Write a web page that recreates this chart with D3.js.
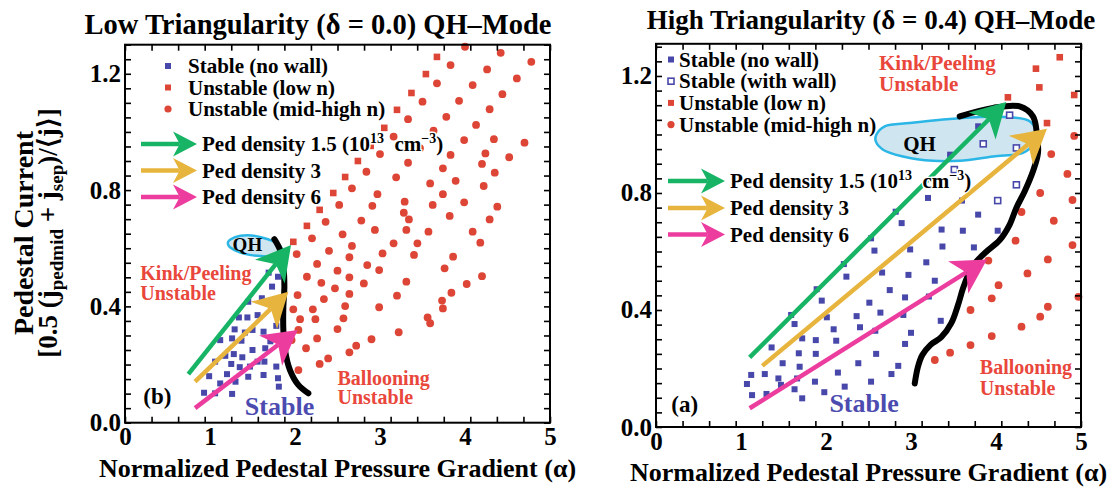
<!DOCTYPE html>
<html>
<head>
<meta charset="utf-8">
<script src="https://cdn.jsdelivr.net/npm/d3@7"></script>
<style>
  body { margin: 0; background: #fff; }
  svg text { font-family: "Liberation Serif", "Times New Roman", serif; font-weight: bold; }
</style>
</head>
<body>
<svg id="chart" width="1119" height="490"></svg>
<script>
// ---------------- data (alpha, normalized pedestal current) ----------------
const xTickLabels = [0, 1, 2, 3, 4, 5];
const yTickLabels = [0, 0.4, 0.8, 1.2];
const densityLabels = ["Ped density 1.5", "Ped density 3", "Ped density 6"];

// low triangularity panel (b)
const leftStableNoWall = [
  [1.69,0.516],[1.80,0.502],[1.73,0.468],[1.61,0.428],[1.73,0.413],[1.45,0.416],[1.34,0.362],[1.44,0.362],
  [1.29,0.321],[1.50,0.319],[1.63,0.313],[1.78,0.333],[1.12,0.284],[1.26,0.290],[1.37,0.282],[1.50,0.250],
  [1.65,0.256],[1.28,0.236],[1.38,0.225],[1.06,0.210],[1.25,0.202],[1.35,0.191],[1.47,0.193],[1.64,0.210],
  [1.78,0.193],[1.20,0.167],[1.12,0.135],[1.30,0.141],[1.45,0.158],[1.63,0.164],[1.80,0.153],[1.81,0.124],
  [0.93,0.103],[1.06,0.101],[1.26,0.099],[0.99,0.160],[1.18,0.230],[1.56,0.210],[1.71,0.280],[1.41,0.310],
  [1.56,0.370]
];
const leftUnstableLowN = [
  [3.67,1.258],[3.54,1.199],[3.37,1.134],[3.20,1.076],[3.05,1.014],[2.89,0.952],[2.74,0.900],[2.59,0.845],
  [2.45,0.790],[2.29,0.732],[2.14,0.677],[1.98,0.622]
];
const leftUnstableMidN = [
  [4.00,1.293],[4.42,1.272],[3.83,1.230],[4.26,1.215],[4.61,1.184],[3.67,1.167],[4.09,1.161],[4.44,1.130],
  [3.50,1.104],[3.93,1.107],[4.29,1.078],[3.33,1.044],[3.78,1.052],[4.13,1.024],[3.16,0.984],[3.63,1.004],
  [3.99,0.972],[4.34,0.975],[3.00,0.924],[3.47,0.944],[3.83,0.921],[4.24,0.926],[4.52,0.913],[2.84,0.863],
  [3.33,0.894],[3.74,0.875],[4.20,0.890],[4.35,0.860],[2.67,0.806],[3.19,0.844],[3.59,0.823],[3.89,0.832],
  [4.22,0.814],[2.52,0.749],[2.97,0.786],[3.29,0.760],[3.74,0.786],[3.99,0.758],[2.36,0.691],[2.91,0.746],
  [3.28,0.722],[3.34,0.699],[3.62,0.749],[3.82,0.711],[4.38,0.743],[4.29,0.699],[2.78,0.695],[2.94,0.663],
  [3.31,0.663],[3.57,0.657],[2.56,0.648],[4.09,0.657],[4.78,1.241],[4.70,0.963],
  [2.20,0.634],[2.67,0.608],[4.18,0.619],[2.40,0.591],[3.16,0.617],[3.44,0.617],[2.64,0.569],[3.03,0.582],
  [3.40,0.577],[3.86,0.571],[2.26,0.546],[2.85,0.542],[2.50,0.523],[2.99,0.525],[3.76,0.531],[2.31,0.481],
  [2.64,0.500],[2.81,0.479],[3.31,0.485],[4.20,0.504],[4.02,0.477],[2.47,0.462],[2.64,0.443],[3.20,0.437],
  [3.84,0.447],[2.34,0.425],[2.59,0.401],[2.99,0.397],[3.73,0.420],[3.74,0.393],[2.21,0.390],[2.24,0.356],
  [2.57,0.359],[3.56,0.362],[3.59,0.342],[2.50,0.322],[2.26,0.290],[2.90,0.287],[3.22,0.311],[2.72,0.265],
  [2.64,0.242],[2.39,0.221],[2.29,0.202],
  [2.02,0.580],[2.14,0.502],[2.03,0.439],[1.98,0.390],[2.06,0.356],[2.04,0.319],[2.13,0.256],[1.96,0.284],
  [2.04,0.181]
];
const leftBoundary = [
  [1.757,0.631],[1.824,0.594],[1.863,0.537],[1.875,0.468],[1.863,0.399],[1.863,0.319],[1.882,0.250],
  [1.941,0.181],[2.039,0.130],[2.157,0.101]
];
const leftQH = [
  [1.212,0.621],[1.295,0.638],[1.436,0.645],[1.601,0.638],[1.742,0.624],[1.836,0.604],[1.848,0.586],
  [1.765,0.573],[1.601,0.573],[1.436,0.579],[1.295,0.593],[1.224,0.607]
];
const leftArrowStart = [[0.745,0.167],[0.824,0.141],[0.824,0.050]];
const leftArrowEnd   = [[1.953,0.611],[1.922,0.450],[2.031,0.319]];

// high triangularity panel (a)
const rightStableNoWall = [
  [2.21,0.557],[2.24,0.514],[1.89,0.471],[1.95,0.432],[1.59,0.383],[1.63,0.352],[2.01,0.375],[2.09,0.334],
  [1.72,0.303],[1.88,0.297],[2.12,0.295],[1.36,0.272],[1.68,0.252],[1.88,0.250],[1.49,0.218],[1.69,0.206],
  [1.12,0.178],[1.28,0.181],[1.44,0.166],[1.66,0.166],[1.87,0.155],[2.14,0.186],[1.07,0.147],[1.47,0.144],
  [1.63,0.129],[1.98,0.119],[2.22,0.138],[1.13,0.109],[1.30,0.113],[1.72,0.098],
  [4.02,0.671],[2.57,0.603],[2.99,0.607],[3.37,0.617],[3.74,0.614],[2.66,0.528],[2.97,0.520],[3.18,0.563],
  [3.28,0.500],[2.75,0.468],[2.93,0.443],[3.21,0.446],[2.51,0.425],[2.64,0.391],[2.91,0.383],[3.35,0.363],
  [2.36,0.379],[2.40,0.341],[2.58,0.329],[3.00,0.322],[2.93,0.284],[2.59,0.250],[2.38,0.218],[2.85,0.209],
  [2.77,0.181],[2.53,0.155],
  [3.79,1.028],[3.46,0.931],[3.20,0.783],[3.60,0.774],[3.79,0.726],[2.89,0.697],[3.36,0.675],[3.61,0.671],
  [2.53,0.645],[2.82,0.736]
];
const rightStableWall = [[4.16,1.066],[3.85,0.968],[4.24,0.954],[4.24,0.828],[4.02,0.774],[3.51,0.880]];
const rightUnstableLowN = [[4.47,1.225],[4.51,1.161],[4.14,1.127],[4.60,1.039],[4.75,1.264],[4.92,1.135]];
const rightUnstableMidN = [
  [4.65,0.933],[4.52,0.800],[4.30,0.735],[4.68,0.705],[4.92,0.995],[4.84,0.865],[4.90,0.776],[4.90,0.622],
  [4.23,0.637],[4.61,0.573],[3.91,0.569],[4.37,0.525],[4.03,0.485],[4.97,0.445],[3.95,0.440],[3.70,0.400],
  [4.61,0.411],[4.52,0.377],[4.30,0.343],[3.95,0.311],[3.70,0.280],[3.46,0.254],[3.28,0.229]
];
const rightBoundary = [
  [3.573,1.062],[3.965,1.091],[4.279,1.096],[4.435,1.062],[4.482,0.999],[4.494,0.937],[4.435,0.874],
  [4.338,0.806],[4.239,0.749],[4.161,0.692],[4.044,0.639],[3.886,0.599],[3.768,0.565],[3.682,0.525],
  [3.612,0.474],[3.553,0.417],[3.474,0.355],[3.356,0.307],[3.227,0.280],[3.133,0.246],[3.082,0.206],
  [3.044,0.149]
];
const rightQH = [
  [2.592,0.999],[2.691,1.028],[2.985,1.039],[3.376,1.051],[3.768,1.059],[4.161,1.059],[4.396,1.045],
  [4.467,1.011],[4.435,0.965],[4.318,0.937],[3.965,0.925],[3.573,0.910],[3.259,0.910],[2.906,0.925],
  [2.671,0.948],[2.585,0.977]
];
const rightArrowStart = [[1.102,0.238],[1.251,0.209],[1.102,0.064]];
const rightArrowEnd   = [[4.121,1.111],[4.600,1.020],[3.894,0.573]];

// ---------------- styling ----------------
const BLUE = "#4848aa", RED = "#dd4536", TXT_RED = "#e9473b", TXT_BLUE = "#4b4bb0";
const arrowColors = ["#17b466", "#e7b43e", "#ec3d9f"];
const xMinorTicks = d3.range(0, 17).map(i => i * 5 / 16);
const yMinorTicks = d3.range(0, 27).map(i => i * 0.05);

const svg = d3.select("#chart");

function addText(g, x, y, str, size, color, anchor) {
  return g.append("text")
    .attr("x", x).attr("y", y)
    .attr("font-size", size)
    .attr("fill", color || "#000")
    .attr("text-anchor", anchor || "start")
    .text(str);
}

function drawArrow(g, x1, y1, x2, y2, color, L, W, sw) {
  const dx = x2 - x1, dy = y2 - y1, len = Math.hypot(dx, dy);
  const ux = dx / len, uy = dy / len, vx = -uy, vy = ux;
  const bx = x2 - ux * L, by = y2 - uy * L;
  const nx = x2 - ux * L * 0.72, ny = y2 - uy * L * 0.72;
  g.append("line")
    .attr("x1", x1).attr("y1", y1).attr("x2", nx).attr("y2", ny)
    .attr("stroke", color).attr("stroke-width", sw);
  g.append("path")
    .attr("d", `M${x2},${y2}L${bx + vx * W},${by + vy * W}L${nx},${ny}L${bx - vx * W},${by - vy * W}Z`)
    .attr("fill", color);
}

function squareMarker(g, cx, cy, s, fill, stroke) {
  g.append("rect")
    .attr("x", cx - s / 2).attr("y", cy - s / 2)
    .attr("width", s).attr("height", s)
    .attr("fill", fill).attr("stroke", stroke || "none").attr("stroke-width", 1.6);
}

function drawPanel(p) {
  const g = svg.append("g");
  const x = p.x, y = p.y;
  const [x0, x1] = x.range(), [y0, y1] = y.range();

  // QH operating region
  g.append("path")
    .datum(p.qh)
    .attr("d", d3.line().x(d => x(d[0])).y(d => y(d[1])).curve(d3.curveCatmullRomClosed))
    .attr("fill", "#cfe6f1").attr("stroke", "#2bb6e6").attr("stroke-width", 2.5);

  // stability points
  g.selectAll(".stab").data(p.stable).join("rect")
    .attr("x", d => x(d[0]) - 3).attr("y", d => y(d[1]) - 3)
    .attr("width", 6).attr("height", 6).attr("fill", BLUE);
  g.selectAll(".wall").data(p.wall || []).join("rect")
    .attr("x", d => x(d[0]) - 3).attr("y", d => y(d[1]) - 3)
    .attr("width", 6).attr("height", 6).attr("fill", "#fff")
    .attr("stroke", BLUE).attr("stroke-width", 1.6);
  g.selectAll(".low").data(p.lowN).join("rect")
    .attr("x", d => x(d[0]) - 3.3).attr("y", d => y(d[1]) - 3.3)
    .attr("width", 6.6).attr("height", 6.6).attr("fill", RED);
  g.selectAll(".mid").data(p.midN).join("circle")
    .attr("cx", d => x(d[0])).attr("cy", d => y(d[1]))
    .attr("r", 3.9).attr("fill", RED);

  // stability boundary
  g.append("path")
    .datum(p.boundary)
    .attr("d", d3.line().x(d => x(d[0])).y(d => y(d[1])).curve(d3.curveCatmullRom))
    .attr("fill", "none").attr("stroke", "#000").attr("stroke-width", 6)
    .attr("stroke-linecap", "round").attr("stroke-linejoin", "round");

  // density scan arrows
  p.arrowStart.forEach((s, i) => {
    const e = p.arrowEnd[i];
    drawArrow(g, x(s[0]), y(s[1]), x(e[0]), y(e[1]), arrowColors[i], 34, 19, 4.5);
  });

  // frame
  g.append("rect")
    .attr("x", x0).attr("y", y1).attr("width", x1 - x0).attr("height", y0 - y1)
    .attr("fill", "none").attr("stroke", "#000").attr("stroke-width", 2);

  const tickStyle = a => {
    a.select(".domain").remove();
    a.selectAll(".tick line").attr("stroke", "#000").attr("stroke-width", 1.6);
  };
  g.append("g").attr("transform", `translate(0,${y0})`)
    .call(d3.axisBottom(x).tickValues(xMinorTicks).tickSizeInner(-6).tickSizeOuter(0).tickFormat(""))
    .call(tickStyle);
  g.append("g").attr("transform", `translate(0,${y1})`)
    .call(d3.axisTop(x).tickValues(xMinorTicks).tickSizeInner(-6).tickSizeOuter(0).tickFormat(""))
    .call(tickStyle);
  g.append("g").attr("transform", `translate(${x0},0)`)
    .call(d3.axisLeft(y).tickValues(yMinorTicks).tickSizeInner(-6).tickSizeOuter(0).tickFormat(""))
    .call(tickStyle);
  g.append("g").attr("transform", `translate(${x1},0)`)
    .call(d3.axisRight(y).tickValues(yMinorTicks).tickSizeInner(-6).tickSizeOuter(0).tickFormat(""))
    .call(tickStyle);

  // tick labels
  g.append("g").attr("transform", `translate(0,${y0})`)
    .call(d3.axisBottom(x).tickValues(xTickLabels).tickSize(0).tickPadding(5).tickFormat(d3.format("d")))
    .call(a => a.select(".domain").remove())
    .attr("font-size", 25);
  g.append("g").attr("transform", `translate(${x0},0)`)
    .call(d3.axisLeft(y).tickValues(yTickLabels).tickSize(0).tickPadding(4).tickFormat(d3.format(".1f")))
    .call(a => a.select(".domain").remove())
    .attr("font-size", 25);
  g.selectAll(".tick text").attr("fill", "#000");

  // titles
  addText(g, p.titleX, p.titleY, p.title, p.titleSize, "#000", "middle");
  addText(g, (x0 + x1) / 2, y0 + 54, "Normalized Pedestal Pressure Gradient (\u03b1)", 26, "#000", "middle");
  return g;
}

function densityLegend(g, tx, arrowX0, arrowX1, ys) {
  ys.forEach((yy, i) => {
    drawArrow(g, arrowX0, yy, arrowX1, yy, arrowColors[i], 24, 12.5, 4.5);
    const t = g.append("text").attr("x", tx).attr("y", yy + 7).attr("font-size", 21)
      .attr("stroke", "#fff").attr("stroke-width", 3).attr("paint-order", "stroke");
    t.append("tspan").text(densityLabels[i] + (i === 0 ? " (10" : ""));
    if (i === 0) {
      t.append("tspan").attr("dy", -8).attr("font-size", 14).text("13");
      t.append("tspan").attr("dy", 8).text("\u00a0\u00a0cm");
      t.append("tspan").attr("dy", -8).attr("font-size", 14).text("\u22123");
      t.append("tspan").attr("dy", 8).text(")");
    }
  });
}

// ---------------- left panel ----------------
const lx = d3.scaleLinear().domain([0, 5]).range([125, 550]);
const ly = d3.scaleLinear().domain([0, 1.3]).range([422.7, 44.7]);
const gl = drawPanel({
  x: lx, y: ly, qh: leftQH, stable: leftStableNoWall, lowN: leftUnstableLowN, midN: leftUnstableMidN,
  boundary: leftBoundary, arrowStart: leftArrowStart, arrowEnd: leftArrowEnd,
  title: "Low Triangularity (\u03b4 = 0.0) QH\u2013Mode", titleX: 318, titleY: 34, titleSize: 28.5
});
addText(gl, lx(1.44), ly(0.59), "QH", 19, "#000", "middle");
addText(gl, lx(0.18), ly(0.491), "Kink/Peeling", 20, TXT_RED);
addText(gl, lx(0.18), ly(0.422), "Unstable", 20, TXT_RED);
addText(gl, lx(2.50), ly(0.130), "Ballooning", 20, TXT_RED);
addText(gl, lx(2.50), ly(0.064), "Unstable", 20, TXT_RED);
addText(gl, lx(1.41), ly(0.026), "Stable", 26, TXT_BLUE);
addText(gl, lx(0.215), ly(0.064), "(b)", 23, "#000");

// legend (left)
[["sq", BLUE, "Stable (no wall)"], ["sq", RED, "Unstable (low n)"], ["ci", RED, "Unstable (mid-high n)"]]
  .forEach((d, i) => {
    const yy = 73 + i * 21.5;
    if (d[0] === "sq") squareMarker(gl, 168, yy - 7, 6, d[1]);
    else gl.append("circle").attr("cx", 168).attr("cy", yy - 7).attr("r", 3.6).attr("fill", d[1]);
    addText(gl, 188, yy, d[2], 21, "#000");
  });
densityLegend(gl, 202, 141, 197, [144, 170.5, 197]);

// y axis title
const yt = gl.append("g");
yt.append("text").attr("transform", "translate(33,233) rotate(-90)")
  .attr("text-anchor", "middle").attr("font-size", 28).text("Pedestal Current");
const yt2 = yt.append("text").attr("transform", "translate(57,233) rotate(-90)")
  .attr("text-anchor", "middle").attr("font-size", 27);
yt2.append("tspan").text("[0.5 (j");
yt2.append("tspan").attr("dy", 6).attr("font-size", 19).text("pedmid");
yt2.append("tspan").attr("dy", -6).text(" + j");
yt2.append("tspan").attr("dy", 6).attr("font-size", 19).text("sep");
yt2.append("tspan").attr("dy", -6).text(")/\u27e8j\u27e9]");

// ---------------- right panel ----------------
const rx = d3.scaleLinear().domain([0, 5]).range([656, 1081]);
const ry = d3.scaleLinear().domain([0, 1.31]).range([427, 43.8]);
const gr = drawPanel({
  x: rx, y: ry, qh: rightQH, stable: rightStableNoWall, wall: rightStableWall,
  lowN: rightUnstableLowN, midN: rightUnstableMidN,
  boundary: rightBoundary, arrowStart: rightArrowStart, arrowEnd: rightArrowEnd,
  title: "High Triangularity (\u03b4 = 0.4) QH\u2013Mode", titleX: 871, titleY: 29, titleSize: 27
});
addText(gr, rx(3.10), ry(0.944), "QH", 21, "#000", "middle");
addText(gr, rx(2.624), ry(1.222), "Kink/Peeling", 21, TXT_RED);
addText(gr, rx(2.624), ry(1.150), "Unstable", 21, TXT_RED);
addText(gr, rx(3.81), ry(0.180), "Ballooning", 20, TXT_RED);
addText(gr, rx(3.81), ry(0.108), "Unstable", 20, TXT_RED);
addText(gr, rx(2.04), ry(0.052), "Stable", 26, TXT_BLUE);
addText(gr, rx(0.18), ry(0.052), "(a)", 23, "#000");

[["sq", BLUE, "Stable (no wall)"], ["open", BLUE, "Stable (with wall)"],
 ["sq", RED, "Unstable (low n)"], ["ci", RED, "Unstable (mid-high n)"]]
  .forEach((d, i) => {
    const yy = 66.5 + i * 21.7;
    if (d[0] === "sq") squareMarker(gr, 671, yy - 7, 6, d[1]);
    else if (d[0] === "open") squareMarker(gr, 671, yy - 7, 6, "#fff", d[1]);
    else gr.append("circle").attr("cx", 671).attr("cy", yy - 7).attr("r", 3.6).attr("fill", d[1]);
    addText(gr, 679, yy, d[2], 21, "#000");
  });
densityLegend(gr, 730, 668, 725, [181, 208, 234.5]);
</script>
</body>
</html>
